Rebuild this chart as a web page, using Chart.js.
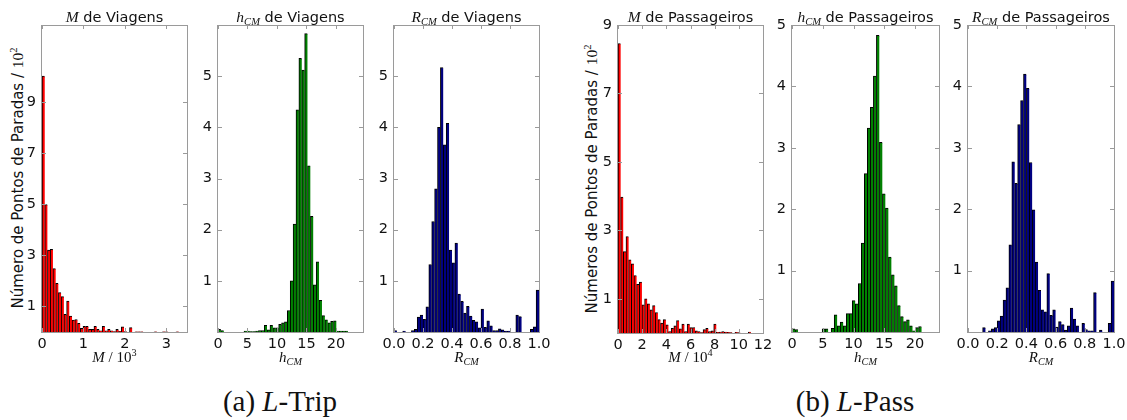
<!DOCTYPE html>
<html>
<head>
<meta charset="utf-8">
<script src="https://cdn.jsdelivr.net/npm/chart.js@4.4.1/dist/chart.umd.min.js"></script>
<style>
  body { margin: 0; background: #fff; }
  #fig { position: relative; width: 1127px; height: 420px; overflow: hidden; font-family: 'DejaVu Sans', sans-serif; color: #111; }
  canvas { position: absolute; }
  .title { position: absolute; top: 9px; width: 240px; line-height: 16px; font-size: 14.5px; text-align: center; white-space: nowrap; }
  .xlab { position: absolute; top: 350px; width: 120px; line-height: 15px; font-size: 15px; text-align: center; white-space: nowrap; }
  .ylab { position: absolute; font-size: 15px; white-space: nowrap; transform: translate(-50%, -50%) rotate(-90deg); }
  .m { font-family: 'Liberation Serif', serif; font-size: 15.5px; }
  .xlab, .cap { font-family: 'Liberation Serif', serif; }
  sub { font-size: 68%; vertical-align: -0.3em; line-height: 0; }
  sup { font-size: 68%; vertical-align: 0.55em; line-height: 0; }
  .cap { position: absolute; top: 387px; width: 300px; font-size: 29px; line-height: 29px; text-align: center; white-space: nowrap; }
</style>
</head>
<body>
<div id="fig">
  <div class="ylab" style="left:18px;top:178px">Número de Pontos de Paradas / <span class="m">10<sup>2</sup></span></div>
  <div class="ylab" style="left:592px;top:179px">Números de Pontos de Paradas / <span class="m">10<sup>2</sup></span></div>
  <div class="cap" style="left:130px">(a) <i>L</i>-Trip</div>
  <div class="cap" style="left:705px">(b) <i>L</i>-Pass</div>
</div>
<script>
'use strict';

// histogram counts (hundreds of stops per bin), 50 bins each
var tripM = [10.0, 4.98, 3.2, 3.23, 2.48, 1.9, 1.54, 1.38, 0.69, 1.21,
  0.62, 0.47, 0.49, 0.34, 0.14, 0.22, 0.22, 0.1, 0.1, 0.22,
  0.1, 0.05, 0.22, 0.05, 0.1, 0.05, 0.02, 0.1, 0.03, 0.2,
  0.02, 0, 0.17, 0, 0.01, 0.01, 0.01, 0, 0, 0,
  0, 0.01, 0, 0, 0.01, 0.01, 0, 0, 0, 0.01];
var tripH = [0.05, 0.03, 0, 0, 0, 0, 0, 0, 0, 0.02,
  0.02, 0.01, 0.01, 0.02, 0.03, 0.03, 0.13, 0.04, 0.13, 0.08,
  0.08, 0.15, 0.18, 0.2, 0.42, 1.0, 2.11, 4.34, 5.35, 5.12,
  5.83, 3.25, 2.26, 0.92, 1.37, 0.62, 0.32, 0.24, 0.18, 0.21,
  0.22, 0.02, 0.02, 0.02, 0.02, 0, 0, 0, 0, 0];
var tripR = [0.03, 0, 0, 0.02, 0, 0, 0.03, 0.05, 0.29, 0.33,
  0.25, 0.49, 1.32, 2.16, 2.8, 4.0, 5.17, 3.66, 4.08, 1.6,
  1.35, 1.74, 0.74, 0.6, 0.37, 0.5, 0.31, 0.23, 0.2, 0.08,
  0.45, 0.09, 0.22, 0.12, 0.03, 0.03, 0.06, 0.04, 0.02, 0.02,
  0, 0, 0.33, 0.3, 0, 0, 0, 0.05, 0.1, 0.82];
var passM = [8.46, 3.97, 2.38, 2.82, 2.14, 2.02, 1.68, 1.42, 1.49, 0.82,
  1.0, 0.85, 0.68, 0.8, 0.6, 0.39, 0.29, 0.39, 0.24, 0.04,
  0.14, 0.21, 0.36, 0.12, 0.26, 0.04, 0.26, 0.16, 0.16, 0.06,
  0.04, 0.01, 0.1, 0.14, 0.04, 0.06, 0.26, 0.02, 0.03, 0.04,
  0.03, 0.02, 0.01, 0, 0.02, 0.01, 0, 0, 0, 0.03];
var passH = [0.05, 0.04, 0, 0, 0, 0, 0, 0, 0, 0,
  0.05, 0.05, 0, 0.06, 0.28, 0.1, 0.16, 0.1, 0.3, 0.3,
  0.51, 0.46, 0.79, 1.45, 2.58, 3.32, 3.66, 4.17, 4.83, 3.09,
  2.25, 2.02, 1.22, 0.93, 0.75, 0.43, 0.25, 0.17, 0.2, 0.1,
  0.02, 0.07, 0.09, 0, 0, 0, 0, 0, 0, 0];
var passR = [0, 0, 0, 0, 0, 0.07, 0, 0.02, 0.05, 0.07,
  0.18, 0.26, 0.52, 0.72, 1.42, 2.77, 2.42, 3.38, 3.77, 4.2,
  3.97, 2.76, 1.99, 1.14, 0.68, 0.36, 0.33, 0.95, 0.27, 0.36,
  0.08, 0.17, 0.12, 0.03, 0.1, 0.39, 0.21, 0.1, 0, 0.14,
  0.04, 0.02, 0.02, 0.64, 0, 0.03, 0, 0, 0.14, 0.83];

// bin widths in data units
var tripMBin = 0.066;
var hBin = 0.49;
var rBin = 0.02;
var passMBin = 0.22;

// tick values
var tripMTicks = [0, 1, 2, 3];
var passMTicks = [0, 2, 4, 6, 8, 10, 12];
var hTicks = [0, 5, 10, 15, 20];
var rTicks = [0, 0.2, 0.4, 0.6, 0.8, 1.0];
var oddTicks = [1, 3, 5, 7, 9];
var unitTicks = [1, 2, 3, 4, 5];

var RED = '#ff0000';
var GREEN = '#008000';
var NAVY = '#000080';

var padL = 40, padT = 16, padR = 16, padB = 26;

// frame round the plot area plus small inward tick marks on all four sides
var frameTicks = {
  id: 'frameTicks',
  afterDatasetsDraw: function(chart) {
    var ctx = chart.ctx;
    var a = chart.chartArea;
    var x = chart.scales.x, y = chart.scales.y;
    ctx.save();
    ctx.strokeStyle = '#9a9a9a';
    ctx.lineWidth = 1;
    ctx.beginPath();
    x.ticks.forEach(function(t) {
      var px = Math.round(x.getPixelForValue(t.value)) + 0.5;
      ctx.moveTo(px, a.bottom); ctx.lineTo(px, a.bottom - 4);
      ctx.moveTo(px, a.top); ctx.lineTo(px, a.top + 4);
    });
    y.ticks.forEach(function(t) {
      var py = Math.round(y.getPixelForValue(t.value)) + 0.5;
      ctx.moveTo(a.left, py); ctx.lineTo(a.left + 4, py);
      ctx.moveTo(a.right, py); ctx.lineTo(a.right - 4, py);
    });
    ctx.stroke();
    ctx.strokeRect(Math.round(a.left) - 0.5, Math.round(a.top) + 0.5,
      Math.round(a.right - a.left) + 1, Math.round(a.bottom - a.top));
    ctx.restore();
  }
};

function addText(cls, html, left) {
  var div = document.createElement('div');
  div.className = cls;
  div.style.left = left + 'px';
  div.innerHTML = html;
  document.getElementById('fig').appendChild(div);
}

function makeHist(p) {
  var l = p.rect[0], t = p.rect[1], r = p.rect[2], b = p.rect[3];
  var canvas = document.createElement('canvas');
  canvas.width = (r - l) + padL + padR;
  canvas.height = (b - t) + padT + padB;
  canvas.style.left = (l - padL) + 'px';
  canvas.style.top = (t - padT) + 'px';
  document.getElementById('fig').appendChild(canvas);

  var cx = (l + r) / 2;
  addText('title', p.title, cx - 120);
  addText('xlab', p.xTitle, cx - 60);

  var points = p.counts.map(function(c, i) {
    return {x: (i + 0.5) * p.bin, y: c};
  });

  var tickFont = {family: 'DejaVu Sans', size: 14.5};

  new Chart(canvas.getContext('2d'), {
    type: 'bar',
    data: {
      datasets: [{
        data: points,
        backgroundColor: p.color,
        borderColor: '#000',
        borderWidth: {top: 1, left: 1, right: 0, bottom: 0},
        barPercentage: 1,
        categoryPercentage: 1
      }]
    },
    options: {
      responsive: false,
      animation: false,
      layout: {padding: {left: 0, top: padT, right: padR, bottom: 0}},
      plugins: {legend: {display: false}, tooltip: {enabled: false}},
      scales: {
        x: {
          type: 'linear',
          offset: false,
          min: 0,
          max: p.xMax,
          grid: {display: false, drawTicks: false},
          border: {display: false},
          afterBuildTicks: function(s) {
            s.ticks = p.xTicks.map(function(v) { return {value: v}; });
          },
          afterFit: function(s) { s.height = padB; },
          ticks: {
            autoSkip: false, maxRotation: 0, minRotation: 0, padding: 4,
            color: '#111', font: tickFont,
            callback: function(v) { return p.decimals ? v.toFixed(1) : String(v); }
          }
        },
        y: {
          min: 0,
          max: p.yMax,
          grid: {display: false, drawTicks: false},
          border: {display: false},
          afterBuildTicks: function(s) {
            s.ticks = p.yTicks.map(function(v) { return {value: v}; });
          },
          afterFit: function(s) { s.width = padL; },
          ticks: {padding: 6, color: '#111', font: tickFont}
        }
      }
    },
    plugins: [frameTicks]
  });
}

var panels = [
  {rect: [42, 25, 187, 332], counts: tripM, bin: tripMBin, color: RED, xMax: 3.5, yMax: 12,
    xTicks: tripMTicks, yTicks: oddTicks,
    title: '<span class="m"><i>M</i></span> de Viagens', xTitle: '<i>M</i> / 10<sup>3</sup>'},
  {rect: [218, 25, 363, 332], counts: tripH, bin: hBin, color: GREEN, xMax: 24.6, yMax: 6,
    xTicks: hTicks, yTicks: unitTicks,
    title: '<span class="m"><i>h<sub>CM</sub></i></span> de Viagens', xTitle: '<i>h<sub>CM</sub></i>'},
  {rect: [394, 25, 539, 332], counts: tripR, bin: rBin, color: NAVY, xMax: 1, yMax: 6,
    xTicks: rTicks, yTicks: unitTicks, decimals: true,
    title: '<span class="m"><i>R<sub>CM</sub></i></span> de Viagens', xTitle: '<i>R<sub>CM</sub></i>'},
  {rect: [618, 25, 763, 333], counts: passM, bin: passMBin, color: RED, xMax: 12, yMax: 9,
    xTicks: passMTicks, yTicks: oddTicks,
    title: '<span class="m"><i>M</i></span> de Passageiros', xTitle: '<i>M</i> / 10<sup>4</sup>'},
  {rect: [792, 25, 939, 332], counts: passH, bin: hBin, color: GREEN, xMax: 23.9, yMax: 5,
    xTicks: hTicks, yTicks: unitTicks,
    title: '<span class="m"><i>h<sub>CM</sub></i></span> de Passageiros', xTitle: '<i>h<sub>CM</sub></i>'},
  {rect: [968, 25, 1114, 332], counts: passR, bin: rBin, color: NAVY, xMax: 1, yMax: 5,
    xTicks: rTicks, yTicks: unitTicks, decimals: true,
    title: '<span class="m"><i>R<sub>CM</sub></i></span> de Passageiros', xTitle: '<i>R<sub>CM</sub></i>'}
];

panels.forEach(makeHist);
</script>
</body>
</html>
